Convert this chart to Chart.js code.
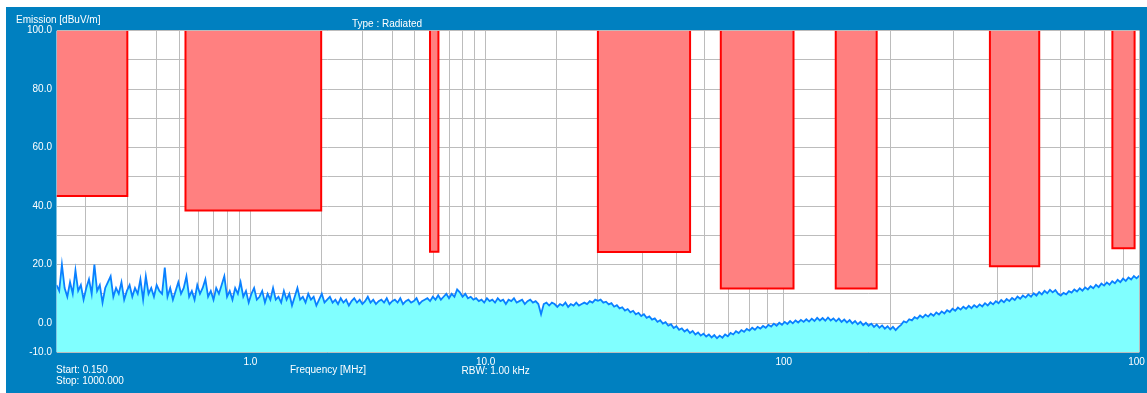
<!DOCTYPE html>
<html>
<head>
<meta charset="utf-8">
<title>Emission scan</title>
<script src="https://cdn.jsdelivr.net/npm/chart.js@4.4.1/dist/chart.umd.min.js"></script>
<style>
  html, body { margin: 0; padding: 0; background: #fff; overflow: hidden; }
  #frame { position: absolute; left: 6px; top: 7px; width: 1141px; height: 386px; background: #0080c0; }
  #chart { position: absolute; left: 0; top: 0; }
</style>
</head>
<body>
<div id="frame"><canvas id="chart" width="1139" height="386"></canvas></div>
<script>
/* ── Data ─────────────────────────────── */
// frequency axis: 0.15-30 MHz and 30-1000 MHz each take half the width (log inside)
const axisBreaks = [0.15, 30, 1000];
const gridFreqs  = [0.2, 0.3, 0.4, 0.5, 0.6, 0.7, 0.8, 0.9,
                    1, 2, 3, 4, 5, 6, 7, 8, 9,
                    10, 20, 30, 40, 50, 60, 70, 80, 90,
                    100, 200, 300, 400, 500, 600, 700, 800, 900, 1000];
const freqLabels = { 1: '1.0', 10: '10.0', 100: '100', 1000: '1000' };

// limit masks (MHz, dBuV/m)
const maskStart = [0.15, 0.53, 5.8,  30,   66.5,  140,   380,  840];
const maskStop  = [0.3,  2.0,  6.3,  54.5, 106.5, 182.5, 523,  970];
const maskLevel = [43.5, 38.5, 24.4, 24.3, 11.8,  11.8,  19.4, 25.6];

// measured trace, one value per sweep point from Start to Stop (dBuV/m)
const traceLevel = [
  13, 11, 20, 12, 9, 14, 10, 18, 11, 13, 8, 12, 15, 10, 20, 11, 13, 7, 12, 14,
  16, 9, 12, 10, 14, 8, 11, 13, 9, 12, 10, 15, 8, 16, 10, 12, 9, 13, 11, 10,
  19, 9, 12, 8, 11, 14, 10, 12, 16, 9, 11, 8, 13, 10, 12, 15, 9, 11, 8, 12,
  10, 13, 16, 9, 11, 8, 12, 10, 14, 9, 11, 7, 10, 12, 8, 9, 11, 7, 10, 8,
  12, 8, 9, 7, 11, 8, 10, 6, 9, 12, 8, 9, 7, 10, 8, 9, 6, 8, 10, 7,
  8, 9, 7, 8, 6.5, 8.5, 7, 8, 6, 7.5, 8.5, 7, 8, 6.5, 7.5, 9, 7, 8, 6.5, 7.5,
  8, 7, 8.5, 6.5, 7.5, 8, 7, 8.5, 6.5, 7.5, 8, 7, 7.5, 8.5, 6.5, 7.5, 8, 8.5, 7.5, 9,
  8, 9.5, 8, 9, 10, 8.5, 10, 9, 11.5, 10.5, 9, 10, 8.5, 9, 8, 8.5, 7.5, 8, 7, 8.5,
  7.5, 8, 7, 8.5, 7.5, 8, 6.5, 8, 7.5, 8.5, 7, 7.5, 8, 6.5, 7.5, 8, 7, 7.5, 6.5, 3,
  6.5, 7, 6, 7, 6.5, 5.5, 6.5, 6, 7, 5.5, 6.5, 6, 7, 6, 6.5, 7, 6.5, 7.5, 7, 8,
  7.6, 8.0, 7.0, 7.3, 6.4, 6.8, 5.6, 6.1, 5.0, 5.4, 4.3, 4.8, 3.7, 4.2, 3.0, 3.5, 2.4, 3.0, 1.8, 2.3,
  1.2, 1.6, 0.4, 1.0, -0.2, 0.3, -0.9, -0.4, -1.7, -1.1, -2.3, -1.8, -2.9, -2.2, -3.4, -2.7, -3.9, -3.2, -4.3, -3.6,
  -4.6, -3.9, -4.9, -4.1, -5.2, -4.3, -5.0, -3.9, -4.5, -3.4, -3.9, -2.8, -3.4, -2.4, -3.0, -2.0, -2.6, -1.6, -2.3, -1.3,
  -1.9, -1.0, -1.6, -0.6, -1.2, -0.2, -0.9, 0.1, -0.6, 0.4, -0.3, 0.7, -0.1, 0.9, 0.2, 1.1, 0.4, 1.3, 0.5, 1.5,
  0.7, 1.8, 0.9, 1.7, 0.8, 1.9, 0.9, 1.6, 0.6, 1.5, 0.4, 1.2, 0.2, 1.0, -0.1, 0.7, -0.4, 0.4, -0.7, 0.1,
  -0.9, -0.2, -1.3, -0.5, -1.6, -0.8, -1.9, -1.1, -2.2, -1.3, -2.4, -1.4, -0.6, 0.6, 0.2, 1.3, 0.9, 2.0, 1.5, 2.6,
  1.9, 2.9, 2.2, 3.2, 2.5, 3.6, 2.9, 4.0, 3.3, 4.4, 3.8, 4.9, 4.2, 5.3, 4.6, 5.6, 4.9, 5.9, 5.1, 6.1,
  5.4, 6.4, 5.7, 6.8, 6.0, 7.1, 6.4, 7.5, 6.8, 7.9, 7.1, 8.2, 7.5, 8.6, 7.9, 9.1, 8.3, 9.4, 8.7, 9.8,
  9.0, 10.2, 9.4, 10.6, 9.8, 11.0, 10.2, 11.4, 10.5, 11.3, 10.0, 9.4, 10.3, 9.8, 10.9, 10.4, 11.5, 10.8, 11.9, 11.1,
  12.2, 11.5, 12.6, 11.9, 13.1, 12.3, 13.5, 12.8, 13.9, 13.1, 14.3, 13.6, 14.8, 14.0, 15.2, 14.4, 15.6, 14.9, 16.1, 15.3,
  16.2
];

/* ── Split log axis ───────────────────── */
const lg = Math.log10;
const fracOf = f => f <= axisBreaks[1]
  ? 0.5 * (lg(f) - lg(axisBreaks[0])) / (lg(axisBreaks[1]) - lg(axisBreaks[0]))
  : 0.5 + 0.5 * (lg(f) - lg(axisBreaks[1])) / (lg(axisBreaks[2]) - lg(axisBreaks[1]));
const freqOf = p => p <= 0.5
  ? axisBreaks[0] * Math.pow(axisBreaks[1] / axisBreaks[0], p / 0.5)
  : axisBreaks[1] * Math.pow(axisBreaks[2] / axisBreaks[1], (p - 0.5) / 0.5);

class SplitLogScale extends Chart.Scale {
  static id = 'splitlog';
  static defaults = {};
  determineDataLimits() { this.min = axisBreaks[0]; this.max = axisBreaks[2]; }
  buildTicks() { return gridFreqs.map(v => ({ value: v })); }
  getLabelForValue(v) { return String(v); }
  getPixelForValue(v) { return this.getPixelForDecimal(fracOf(v)); }
  getPixelForTick(i) { return this.getPixelForValue(this.ticks[i].value); }
  getValueForPixel(p) { return freqOf(this.getDecimalForPixel(p)); }
}
Chart.register(SplitLogScale);

/* ── Datasets ─────────────────────────── */
const sweepFreq = traceLevel.map((_, i) => freqOf(i / (traceLevel.length - 1)));

const maskSets = maskStart.map((f1, i) => {
  const pts = [];
  if (f1 > axisBreaks[0]) pts.push({ x: f1, y: 100 });
  pts.push({ x: f1, y: maskLevel[i] }, { x: maskStop[i], y: maskLevel[i] }, { x: maskStop[i], y: 100 });
  return {
    data: pts, fill: 'end', borderColor: '#ff0000', backgroundColor: '#ff8080',
    borderWidth: 2, pointRadius: 0, tension: 0, clip: 0,
  };
});

const traceSet = {
  data: traceLevel.map((v, i) => ({ x: sweepFreq[i], y: v })),
  fill: 'start', borderColor: '#0a80ff', backgroundColor: '#80ffff',
  borderWidth: 1.8, pointRadius: 0, tension: 0, clip: 0,
};

/* ── Frame texts ──────────────────────── */
const frameNotes = [
  ['Emission [dBuV/m]', 10, 13],
  ['Type : Radiated', 346, 17.5],
  ['Start: 0.150', 50, 363],
  ['Stop: 1000.000', 50, 374],
  ['Frequency [MHz]', 284, 363],
  ['RBW: 1.00 kHz', 455.5, 364],
];

const framePlugin = {
  id: 'frame',
  beforeDraw(chart) {
    const { ctx, chartArea: a } = chart;
    ctx.save();
    ctx.fillStyle = '#ffffff';
    ctx.fillRect(a.left, a.top, a.width, a.height);
    ctx.restore();
  },
  afterDraw(chart) {
    const ctx = chart.ctx;
    ctx.save();
    ctx.fillStyle = '#ffffff';
    ctx.font = '10px "Liberation Sans", Arial, sans-serif';
    ctx.textBaseline = 'middle';
    frameNotes.forEach(([t, x, y]) => ctx.fillText(t, x, y));
    ctx.restore();
  },
};

Chart.defaults.font.family = '"Liberation Sans", Arial, sans-serif';
Chart.defaults.font.size = 10;

new Chart(document.getElementById('chart'), {
  type: 'line',
  data: { datasets: [...maskSets, traceSet] },
  options: {
    responsive: false,
    animation: false,
    devicePixelRatio: 1,
    layout: { padding: { top: 23.7, right: 5.7, bottom: 0, left: 0 } },
    plugins: { legend: { display: false }, tooltip: { enabled: false } },
    scales: {
      x: {
        type: 'splitlog', z: 1,
        grid: { color: '#bcbcbc', lineWidth: 1, drawTicks: false },
        border: { display: false },
        ticks: { autoSkip: false, maxRotation: 0, minRotation: 0, padding: 4, color: '#ffffff',
                 callback: v => freqLabels[v] || '' },
        afterFit: s => { s.height = 40.7; s.paddingLeft = 0; s.paddingRight = 0; },
      },
      y: {
        type: 'linear', min: -10, max: 100, z: 1,
        grid: { color: '#bcbcbc', lineWidth: 1, drawTicks: false },
        border: { display: false },
        ticks: { stepSize: 10, autoSkip: false, padding: 4.5, color: '#ffffff',
                 callback: v => (v === -10 || v % 20 === 0) ? v.toFixed(1) : '' },
        afterFit: s => { s.width = 50.5; s.paddingTop = 0; s.paddingBottom = 0; },
      },
    },
  },
  plugins: [framePlugin],
});
</script>
</body>
</html>
